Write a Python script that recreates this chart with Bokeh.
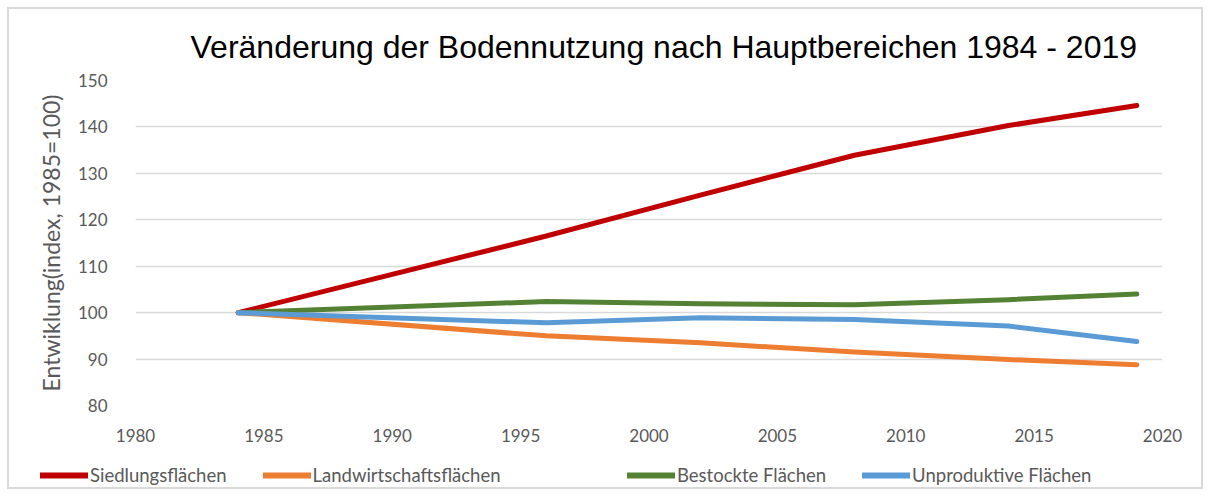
from bokeh.plotting import figure
from bokeh.models import Legend, LegendItem, Title, FixedTicker
from bokeh.embed import file_html
from bokeh.resources import INLINE

years = [1984, 1996, 2002, 2008, 2014, 2019]
siedlung = [100.0, 116.5, 125.3, 133.9, 140.3, 144.6]
landwirtschaft = [100.0, 95.0, 93.5, 91.5, 89.9, 88.8]
bestockt = [100.0, 102.4, 101.9, 101.7, 102.8, 104.0]
unproduktiv = [100.0, 97.8, 98.9, 98.5, 97.1, 93.8]

series_names = ["Siedlungsflächen", "Landwirtschaftsflächen", "Bestockte Flächen", "Unproduktive Flächen"]
series_colors = ["#C00000", "#ED7D31", "#548235", "#5B9BD5"]
x_ticks = [1980, 1985, 1990, 1995, 2000, 2005, 2010, 2015, 2020]
y_ticks = [80, 90, 100, 110, 120, 130, 140, 150]

title_text = "Veränderung der Bodennutzung nach Hauptbereichen 1984 - 2019"
y_label = "Entwiklung(index, 1985=100)"

FONT = "Lato"
GRAY = "#595959"
W, H = 1210, 496
series = [siedlung, landwirtschaft, bestockt, unproduktiv]

# ---- main chart ----
p = figure(width=W, height=H, output_backend="svg", toolbar_location=None,
           x_range=(1980, 2020), y_range=(80, 150),
           min_border_left=135, min_border_right=48, min_border_top=80, min_border_bottom=91)
p.outline_line_color = None
p.background_fill_color = "white"
p.border_fill_color = "white"

p.title = Title(text=title_text, align="left", offset=55, text_font="Liberation Sans",
                text_font_size="32px", text_font_style="normal", text_color="black", standoff=32)

p.xaxis.ticker = FixedTicker(ticks=x_ticks)
p.yaxis.ticker = FixedTicker(ticks=y_ticks)
for ax in (p.xaxis[0], p.yaxis[0]):
    ax.axis_line_color = None
    ax.major_tick_line_color = None
    ax.minor_tick_line_color = None
    ax.major_label_text_font = FONT
    ax.major_label_text_font_size = "17px"
    ax.major_label_text_color = GRAY
p.xaxis.major_label_standoff = 17
p.yaxis.major_label_standoff = 22
p.yaxis.axis_label = y_label
p.yaxis.axis_label_text_font = FONT
p.yaxis.axis_label_text_font_size = "23px"
p.yaxis.axis_label_text_font_style = "normal"
p.yaxis.axis_label_text_color = GRAY
p.yaxis.axis_label_standoff = 10

p.xgrid.grid_line_color = None
p.ygrid.grid_line_color = "#D9D9D9"
p.ygrid.grid_line_width = 1.5

for vals, color in zip(series, series_colors):
    p.line(years, vals, line_color=color, line_width=5, line_cap="round", line_join="round")

# ---- transparent overlay carrying the legend and the chart-area border ----
lg = figure(width=W, height=H, output_backend="svg", toolbar_location=None,
            x_axis_type=None, y_axis_type=None, x_range=(0, 1), y_range=(0, 1),
            min_border=0, min_border_left=0, min_border_right=0,
            min_border_top=0, min_border_bottom=0)
lg.styles = {"position": "absolute", "top": "0px", "left": "0px",
             "outline": "2px solid #D9D9D9", "outline-offset": "-9px"}
lg.outline_line_color = None
lg.xgrid.visible = False
lg.ygrid.visible = False
lg.background_fill_alpha = 0
lg.border_fill_alpha = 0

# key renderers: same series, outside this overlay's ranges, used only for legend glyphs
key_renderers = [lg.line(years, vals, line_color=c, line_width=6, line_cap="round")
                 for vals, c in zip(series, series_colors)]

def make_legend(idx, loc):
    return Legend(items=[LegendItem(label=series_names[i], renderers=[key_renderers[i]]) for i in idx],
                  location=loc, orientation="horizontal", glyph_width=48, glyph_height=20,
                  label_height=20, label_standoff=2, spacing=36, padding=0, margin=0,
                  border_line_color=None, background_fill_alpha=0,
                  label_text_font=FONT, label_text_font_size="18.5px", label_text_color=GRAY)

lg.add_layout(make_legend([0, 1], (40, 10)))
lg.add_layout(make_legend([2, 3], (627, 10)))

open("out.html", "w").write(file_html([p, lg], INLINE))
